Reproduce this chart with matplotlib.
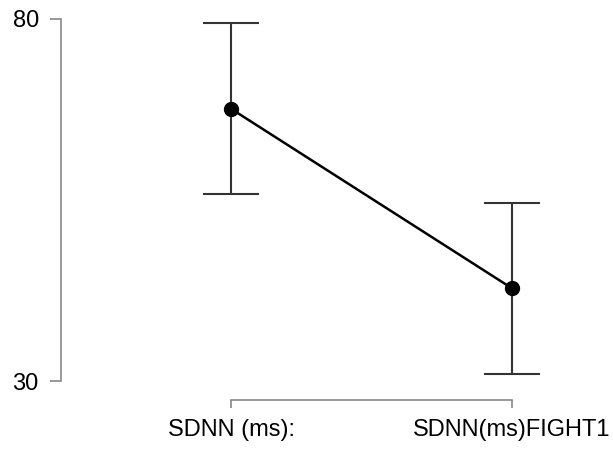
import matplotlib
matplotlib.use("Agg")
import matplotlib.pyplot as plt

categories = ["SDNN (ms):", "SDNN(ms)FIGHT1"]
means = [67.6, 42.8]
upper = [79.5, 54.6]
lower = [55.8, 31.0]
y_ticks = [30, 80]

plt.rcParams["font.family"] = ["Liberation Sans", "DejaVu Sans"]

fig = plt.figure(figsize=(6.13, 4.49), dpi=100)
ax = fig.add_axes([61 / 613, 49 / 449, 539 / 613, 390 / 449])

x = list(range(len(categories)))
err_low = [m - l for m, l in zip(means, lower)]
err_high = [u - m for m, u in zip(means, upper)]

ax.errorbar(x, means, yerr=[err_low, err_high], fmt="none",
            ecolor="#333333", elinewidth=1.5, capsize=20, capthick=1.5, zorder=2)
ax.plot(x, means, color="black", linewidth=1.8, marker="o",
        markersize=10, zorder=3)

ax.set_xlim(-0.605, 1.313)
ax.set_ylim(27.38, 81.24)

ax.spines["top"].set_visible(False)
ax.spines["right"].set_visible(False)
ax.spines["left"].set_bounds(30, 80)
ax.spines["bottom"].set_bounds(0, 1)
for s in ["left", "bottom"]:
    ax.spines[s].set_color("#888888")
    ax.spines[s].set_linewidth(1.2)

ax.set_yticks(y_ticks)
ax.set_xticks(x)
ax.set_xticklabels(categories)
ax.tick_params(axis="y", length=8, width=1.2, color="#888888", pad=8, labelsize=17)
ax.tick_params(axis="x", length=6, width=1.2, color="#888888", pad=8, labelsize=17)

fig.savefig("out.png", dpi=100)
